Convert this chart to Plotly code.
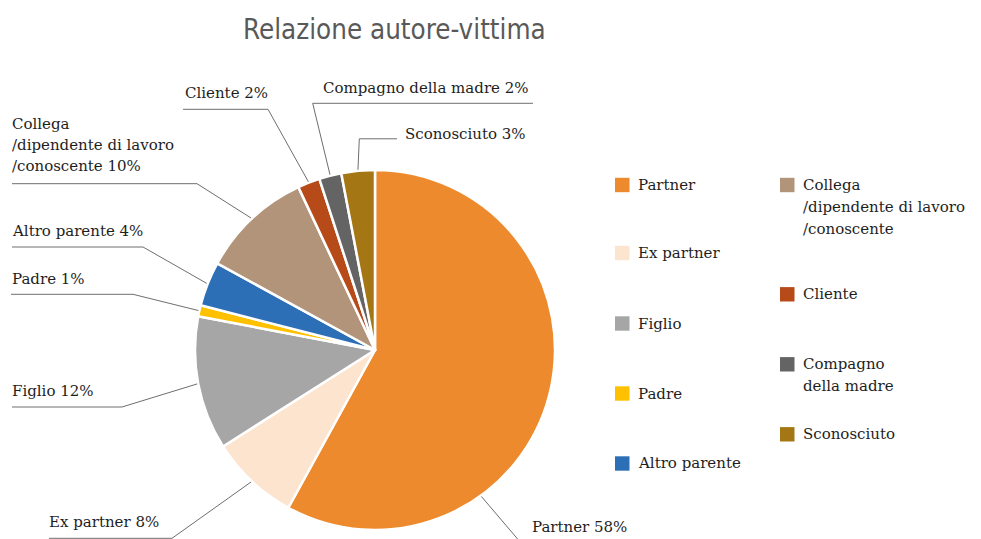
import math
import plotly.graph_objects as go

# ---------------- data ----------------
categories = [
    "Partner",
    "Ex partner",
    "Figlio",
    "Padre",
    "Altro parente",
    "Collega /dipendente di lavoro /conoscente",
    "Cliente",
    "Compagno della madre",
    "Sconosciuto",
]
values = [58, 8, 12, 1, 4, 10, 2, 2, 3]
colors = ["#ED8A2D", "#FCE4CF", "#A6A6A6", "#FFC000", "#2D6FB6",
          "#B2947A", "#B64A18", "#646464", "#A47714"]
title_text = "Relazione autore-vittima"

# display line breaks (text only)
legend_lines = [
    ["Partner"], ["Ex partner"], ["Figlio"], ["Padre"], ["Altro parente"],
    ["Collega", "/dipendente di lavoro", "/conoscente"],
    ["Cliente"], ["Compagno", "della madre"], ["Sconosciuto"],
]
label_lines = [
    ["Partner"], ["Ex partner"], ["Figlio"], ["Padre"], ["Altro parente"],
    ["Collega", "/dipendente di lavoro", "/conoscente"],
    ["Cliente"], ["Compagno della madre"], ["Sconosciuto"],
]

# ---------------- layout constants (pixels) ----------------
W, H = 981, 539
CX, CY, R = 375, 350, 180
FONT = "DejaVu Serif"
FS = 15
TXT = "#1E1E1E"
LINE = "#6E6E6E"
PAD = 2  # annotation inner padding compensation

# data label placement: text left x, text centre y, elbow point, horizontal end x
label_layout = [
    dict(tx=532, ty=527, elbow=(521, 543), hx=628, attach=144),
    dict(tx=49, ty=522, elbow=(172, 538.3), hx=49),
    dict(tx=12, ty=391, elbow=(122, 407), hx=12),
    dict(tx=12, ty=279, elbow=(133, 294.3), hx=11),
    dict(tx=12, ty=231, elbow=(143, 247), hx=12),
    dict(tx=12, ty=145, elbow=(197, 183.7), hx=12),
    dict(tx=185, ty=93, elbow=(268, 109.3), hx=183),
    dict(tx=323, ty=88, elbow=(312.7, 103.3), hx=533),
    dict(tx=405, ty=134, elbow=(359.3, 138.8), hx=397),
]
# legend placement: square x, text x, first line centre y
legend_layout = [
    (615, 638, 185), (615, 638, 253), (615, 638, 323.5), (615, 638, 393.5),
    (615, 638, 463.5),
    (780, 803, 185), (780, 803, 294.3), (780, 803, 364.3), (780, 803, 434.3),
]


def px(x):
    return x / W


def py(y):
    return 1 - y / H


fig = go.Figure()
fig.add_trace(go.Pie(
    labels=categories,
    values=values,
    sort=False,
    direction="clockwise",
    rotation=0,
    textinfo="none",
    hoverinfo="label+percent",
    showlegend=False,
    marker=dict(colors=colors, line=dict(color="white", width=2.5)),
    domain=dict(x=[px(CX - R), px(CX + R)], y=[py(CY + R), py(CY - R)]),
))

shapes = []
annotations = []

total = sum(values)
cum = 0
for i, (cat, v) in enumerate(zip(categories, values)):
    mid = (cum + v / 2) / total * 360
    cum += v
    lay = label_layout[i]
    ang = lay.get("attach", mid)
    a = math.radians(ang)
    sx = CX + (R + 1) * math.sin(a)
    sy = CY - (R + 1) * math.cos(a)
    ex, ey = lay["elbow"]
    shapes.append(dict(type="line", xref="paper", yref="paper",
                       x0=px(sx), y0=py(sy), x1=px(ex), y1=py(ey),
                       line=dict(color=LINE, width=1)))
    shapes.append(dict(type="line", xref="paper", yref="paper",
                       x0=px(ex), y0=py(ey), x1=px(lay["hx"]), y1=py(ey),
                       line=dict(color=LINE, width=1)))
    pct = f"{round(v / total * 100)}%"
    lines = list(label_lines[i])
    lines[-1] = lines[-1] + " " + pct
    n = len(lines)
    for k, ln in enumerate(lines):
        yc = lay["ty"] + (k - (n - 1) / 2) * 21
        annotations.append(dict(text=ln, x=px(lay["tx"] - PAD), y=py(yc),
                                xref="paper", yref="paper", xanchor="left",
                                yanchor="middle", showarrow=False,
                                font=dict(family=FONT, size=FS, color=TXT)))

# legend
for i, lines in enumerate(legend_lines):
    sqx, tx, yc = legend_layout[i]
    shapes.append(dict(type="rect", xref="paper", yref="paper",
                       x0=px(sqx), x1=px(sqx + 14.5), y0=py(yc + 7.2), y1=py(yc - 7.2),
                       fillcolor=colors[i], line=dict(width=0)))
    for k, ln in enumerate(lines):
        annotations.append(dict(text=ln, x=px(tx - PAD), y=py(yc + k * 22),
                                xref="paper", yref="paper", xanchor="left",
                                yanchor="middle", showarrow=False,
                                font=dict(family=FONT, size=FS, color=TXT)))

annotations.append(dict(text=title_text, x=px(394), y=py(29), xref="paper", yref="paper",
                        xanchor="center", yanchor="middle", showarrow=False,
                        font=dict(family="DejaVu Sans Condensed, DejaVu Sans, sans-serif",
                                  size=27.5, color="#595959")))

fig.update_layout(
    width=W, height=H,
    margin=dict(l=0, r=0, t=0, b=0),
    paper_bgcolor="white",
    plot_bgcolor="white",
    shapes=shapes,
    annotations=annotations,
)

fig.write_html(
    "out.html",
    config={"displayModeBar": False},
    post_script="document.body.style.margin='0';document.body.style.padding='0';"
                "document.body.style.overflow='hidden';",
)
